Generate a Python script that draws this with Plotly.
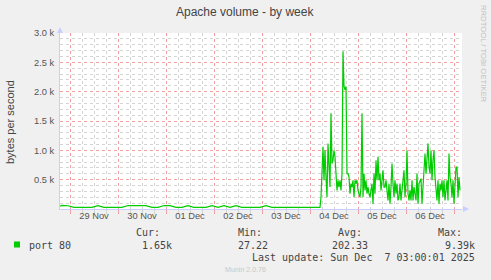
import pandas as pd
import plotly.graph_objects as go

# ---- data ----
quiet_start = "2025-11-28 17:00"
quiet_step_hours = 3
quiet_values = [27, 62, 55, 28, 27, 28, 27, 58, 28, 27, 27, 27, 60, 55, 58, 56, 28, 27, 60, 58,
                28, 27, 56, 28, 27, 28, 58, 28, 56, 27, 58, 28, 27, 28, 27, 56, 28, 27, 28, 27,
                27, 28, 27, 28, 27]
busy_start = "2025-12-04 05:30"
busy_step_minutes = 30
busy_values = [200, 716, 1060, 490, 1000, 545, 200, 1118, 608, 374, 1632, 775, 831, 1000, 888, 490,
               317, 490, 374, 490, 317, 603, 2690, 2088, 2031, 2088, 603, 603, 545, 260, 432, 374,
               490, 200, 490, 432, 490, 317, 260, 200, 374, 1632, 200, 603, 317, 490, 260, 374,
               260, 200, 317, 432, 89, 603, 260, 831, 490, 888, 490, 603, 317, 490, 660, 374,
               374, 490, 260, 146, 432, 89, 374, 775, 432, 200, 490, 260, 432, 146, 200, 432,
               146, 374, 545, 660, 200, 432, 1000, 260, 146, 317, 146, 490, 146, 374, 260, 146,
               603, 89, 432, 490, 518, 89, 374, 831, 945, 603, 888, 1118, 716, 603, 1000, 490,
               831, 1000, 545, 374, 146, 490, 89, 432, 317, 490, 200, 490, 146, 317, 490, 146,
               945, 545, 432, 200, 490, 89, 374, 716, 716, 200, 545, 317]

day_lines = pd.date_range("2025-11-29", "2025-12-07", freq="D")
day_labels = ["29 Nov", "30 Nov", "01 Dec", "02 Dec", "03 Dec", "04 Dec", "05 Dec", "06 Dec"]
y_ticks = [500, 1000, 1500, 2000, 2500, 3000]
y_ticktext = ["0.5 k", "1.0 k", "1.5 k", "2.0 k", "2.5 k", "3.0 k"]
x_range = ["2025-11-28 19:00", "2025-12-07 04:00"]

legend_name = "port 80"
stats = {"Cur:": "1.65k", "Min:": "27.22", "Avg:": "202.33", "Max:": "9.39k"}
last_update = "Last update: Sun Dec  7 03:00:01 2025"

# ---- build series ----
qt = pd.date_range(quiet_start, periods=len(quiet_values), freq=f"{quiet_step_hours}h")
bt = pd.date_range(busy_start, periods=len(busy_values), freq=f"{busy_step_minutes}min")
times = list(qt) + list(bt)
values = quiet_values + busy_values

GREEN = "#00cc00"
W, H = 491, 280
L, R, T, B = 60, 29, 33, 71
PW, PH = W - L - R, H - T - B
SANS = "Liberation Sans"

def px(x):
    return (x - L) / PW

def py(y):
    return (H - B - y) / PH

fig = go.Figure()
fig.add_trace(go.Scatter(x=times, y=values, mode="lines",
                         line=dict(color=GREEN, width=1.2), hoverinfo="skip",
                         showlegend=False))
fig.add_trace(go.Scatter(x=[x_range[0]], y=[0], xaxis="x2", mode="markers",
                         marker=dict(opacity=0), showlegend=False, hoverinfo="skip"))

noon = [d + pd.Timedelta(hours=12) for d in day_lines[:len(day_labels)]]

fig.update_layout(
    width=W, height=H,
    margin=dict(l=L, r=R, t=T, b=B, pad=0),
    paper_bgcolor="#f0f0f0", plot_bgcolor="#ffffff",
    font=dict(family=SANS, color="#555555", size=9.3),
    xaxis=dict(range=x_range, type="date", tickvals=list(day_lines), showticklabels=False,
               showgrid=True, gridcolor="#f2a0a0", griddash="dot", gridwidth=1,
               ticks="outside", ticklen=4, tickcolor="#f2a0a0",
               minor=dict(dtick=6 * 3600 * 1000, tick0="2025-11-29", showgrid=True,
                          gridcolor="#d4d4d4", griddash="dot", ticks="outside",
                          ticklen=4, tickcolor="#d4d4d4"),
               showline=True, linecolor="#c8cfff", linewidth=1, zeroline=False,
               fixedrange=True),
    xaxis2=dict(range=x_range, type="date", overlaying="x", side="bottom",
                tickvals=noon, ticktext=day_labels, showgrid=False, ticks="",
                tickfont=dict(size=9.3, color="#555555", family=SANS),
                showline=False, zeroline=False),
    yaxis=dict(range=[0, 3000], tickvals=y_ticks, ticktext=y_ticktext,
               showgrid=True, gridcolor="#f2a0a0", griddash="dot",
               minor=dict(dtick=100, showgrid=True, gridcolor="#d4d4d4", griddash="dot"),
               showline=True, linecolor="#c8cfff", linewidth=1, zeroline=False,
               ticks="", tickfont=dict(size=9.3, color="#555555", family=SANS),
               ticklabelstandoff=3),
    showlegend=False,
)

def note(text, x, y, font, xanchor="center", angle=0):
    return dict(text=text, x=px(x), y=py(y), xref="paper", yref="paper",
                xanchor=xanchor, yanchor="middle", showarrow=False, textangle=angle,
                font=font)

ann = []
ann.append(note("Apache volume - by week", 245, 12, dict(size=12, color="#444444", family=SANS)))
ann.append(note("bytes per second", 10, 122, dict(size=11, color="#444444", family=SANS), angle=-90))
ann.append(note("RRDTOOL / TOBI OETIKER", 483, 54, dict(size=7.7, color="#c0c0c0", family=SANS), angle=90))
mono = dict(family="DejaVu Sans Mono", size=10, color="#444444")
ann.append(note(legend_name, 27, 245, mono, xanchor="left"))
hdr_right = [162, 264, 364, 464]
val_right = [174, 270, 370, 477]
for (k, v), hr, vr in zip(stats.items(), hdr_right, val_right):
    ann.append(note(k, hr, 233, mono, xanchor="right"))
    ann.append(note(v, vr, 245, mono, xanchor="right"))
ann.append(note(last_update, 477, 257, mono, xanchor="right"))
ann.append(note("Munin 2.0.76", 245, 270, dict(size=7.1, color="#c8c8c8", family=SANS)))
fig.update_layout(annotations=ann)

shapes = [
    dict(type="rect", xref="paper", yref="paper", x0=px(14), x1=px(20), y0=py(247.5), y1=py(241.5),
         fillcolor=GREEN, line=dict(width=0)),
    dict(type="path", xref="paper", yref="paper",
         path=f"M {px(60)} {py(27)} L {px(57)} {py(33)} L {px(63)} {py(33)} Z",
         fillcolor="#c8cfff", line=dict(width=0)),
    dict(type="path", xref="paper", yref="paper",
         path=f"M {px(469)} {py(209)} L {px(463)} {py(206)} L {px(463)} {py(212)} Z",
         fillcolor="#c8cfff", line=dict(width=0)),
]
fig.update_layout(shapes=shapes)

fig.write_html("out.html")
